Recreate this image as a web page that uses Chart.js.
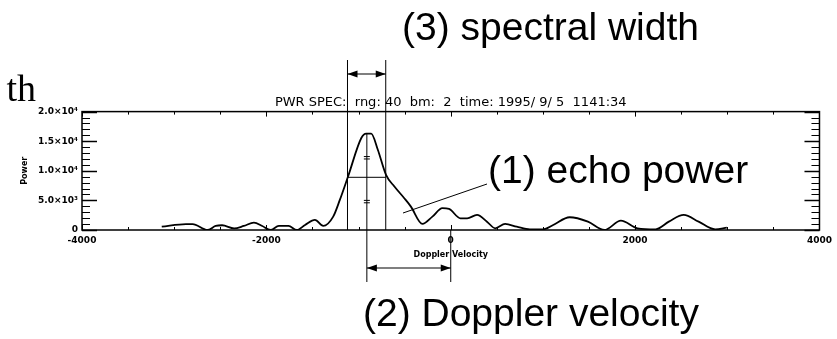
<!DOCTYPE html>
<html>
<head>
<meta charset="utf-8">
<script src="https://cdn.jsdelivr.net/npm/chart.js@4.4.0/dist/chart.umd.min.js"></script>
<style>
  html, body { margin: 0; padding: 0; background: #fff; }
  #spec { display: block; }
</style>
</head>
<body>
<canvas id="spec" width="837" height="339"></canvas>
<script>
// power spectrum (velocity in m/s, power)
var velocity = [-3135, -2872, -2800, -2640, -2550, -2480, -2350, -2245, -2135, -2045,
                -1955, -1865, -1760, -1670, -1580, -1473, -1383, -1275, -1203, -1114,
                -970, -917, -863, -791, -702, -611, -504, -432, -307, -199,
                -91, -19, 105, 178, 285, 393, 483, 590, 716, 859,
                1003, 1111, 1290, 1488, 1667, 1846, 2026, 2223, 2366, 2528,
                2689, 2869, 2995];
var power = [560, 1000, 1000, 0, 680, 800, 280, 680, 1240, 680,
             0, 680, 680, 0, 850, 1700, 680, 2260, 5080, 9030,
             15540, 16270, 16270, 13560, 9320, 7340, 5370, 3950, 1020, 2260,
             3680, 3560, 1980, 1980, 2540, 1410, 290, 1020, 560, 120,
             120, 850, 2150, 1410, 0, 1580, 290, 120, 1410, 2540,
             1410, 120, 390];

var xTicks = [-4000, -2000, 0, 2000, 4000];
var yTickValues = [0, 5000, 10000, 15000, 20000];
var yTickLabels = ['0', '5.0×10³', '1.0×10⁴', '1.5×10⁴', '2.0×10⁴'];

// spectral parameters marked on the figure
var dopplerVel = -910;
var widthLeft = -1120;
var widthRight = -705;
var halfPower = 8900;
var errMarks = [12200, 4800];

var titleText = 'PWR SPEC:  rng: 40  bm:  2  time: 1995/ 9/ 5  1141:34';

var points = velocity.map(function (v, i) { return { x: v, y: power[i] }; });

function seg(ctx, x1, y1, x2, y2) {
    ctx.beginPath();
    ctx.moveTo(x1, y1);
    ctx.lineTo(x2, y2);
    ctx.stroke();
}

function doubleArrow(ctx, x1, x2, y) {
    seg(ctx, x1, y, x2, y);
    ctx.beginPath();
    ctx.moveTo(x1, y); ctx.lineTo(x1 + 10, y - 3.5); ctx.lineTo(x1 + 10, y + 3.5);
    ctx.closePath();
    ctx.fill();
    ctx.beginPath();
    ctx.moveTo(x2, y); ctx.lineTo(x2 - 10, y - 3.5); ctx.lineTo(x2 - 10, y + 3.5);
    ctx.closePath();
    ctx.fill();
}

var annotate = {
    id: 'annotate',
    afterDraw: function (chart) {
        var ctx = chart.ctx, a = chart.chartArea;
        var xs = chart.scales.x, ys = chart.scales.y;
        var i, v, px, py, len;
        ctx.save();
        ctx.strokeStyle = '#000';
        ctx.fillStyle = '#000';

        // frame
        ctx.lineWidth = 1.5;
        ctx.strokeRect(a.left, a.top, a.right - a.left, a.bottom - a.top);

        // tick marks on all four sides
        ctx.lineWidth = 1;
        for (v = -4000; v <= 4000; v += 500) {
            px = Math.round(xs.getPixelForValue(v)) + 0.5;
            len = v % 2000 === 0 ? 5 : 3;
            seg(ctx, px, a.bottom, px, a.bottom - len);
            seg(ctx, px, a.top, px, a.top + len);
        }
        for (v = 0; v <= 20000; v += 1000) {
            py = Math.round(ys.getPixelForValue(v)) + 0.5;
            len = v % 5000 === 0 ? 15 : 8;
            ctx.lineWidth = v % 5000 === 0 ? 1.5 : 1;
            seg(ctx, a.left, py, a.left + len, py);
            seg(ctx, a.right, py, a.right - len, py);
        }

        var xl = xs.getPixelForValue(widthLeft);
        var xr = xs.getPixelForValue(widthRight);
        var xc = xs.getPixelForValue(dopplerVel);
        var x0 = xs.getPixelForValue(0);
        var yb = ys.getPixelForValue(0);
        var yh = ys.getPixelForValue(halfPower);
        var yp = ys.getPixelForValue(Math.max.apply(null, power));

        // (3) spectral width markers
        ctx.lineWidth = 1;
        seg(ctx, xl, 60, xl, yb);
        seg(ctx, xr, 60, xr, yb);
        seg(ctx, xl, yh, xr, yh);
        ctx.lineWidth = 1.2;
        doubleArrow(ctx, xl, xr, 74);

        // (2) doppler velocity markers
        ctx.lineWidth = 1;
        seg(ctx, xc, yp, xc, 282);
        seg(ctx, x0, yb, x0, 282);
        ctx.lineWidth = 1.2;
        doubleArrow(ctx, xc, x0, 268);

        // error marks on centre line
        ctx.lineWidth = 1;
        for (i = 0; i < errMarks.length; i++) {
            py = ys.getPixelForValue(errMarks[i]);
            seg(ctx, xc - 3, py - 1.2, xc + 3, py - 1.2);
            seg(ctx, xc - 3, py + 1.2, xc + 3, py + 1.2);
        }

        // (1) echo power pointer
        seg(ctx, 403, 213, 487, 184);

        // big labels
        ctx.font = '39px "Liberation Sans"';
        ctx.textBaseline = 'alphabetic';
        ctx.textAlign = 'left';
        ctx.fillText('(3) spectral width', 402, 40);
        ctx.fillText('(1) echo power', 488, 183);
        ctx.fillText('(2) Doppler velocity', 363, 326);
        ctx.font = '38px "Liberation Serif"';
        ctx.textAlign = 'right';
        ctx.fillText('th', 36, 101);
        ctx.restore();
    }
};

new Chart(document.getElementById('spec').getContext('2d'), {
    type: 'line',
    data: {
        datasets: [
            {
                data: points,
                borderColor: '#000',
                borderWidth: 1.8,
                pointRadius: 0,
                fill: false,
                cubicInterpolationMode: 'monotone'
            }
        ]
    },
    plugins: [annotate],
    options: {
        responsive: false,
        animation: false,
        layout: {
            padding: { left: 0, right: 12, top: 0, bottom: 79 }
        },
        plugins: {
            legend: { display: false },
            tooltip: { enabled: false },
            title: {
                display: true,
                text: titleText,
                fullSize: false,
                color: '#000',
                font: { family: 'DejaVu Sans', size: 13, weight: 'normal' },
                padding: { top: 95, bottom: 1 }
            }
        },
        scales: {
            x: {
                type: 'linear',
                min: -4000,
                max: 4000,
                afterFit: function (s) { s.height = 30; },
                afterBuildTicks: function (s) { s.ticks = xTicks.map(function (v) { return { value: v }; }); },
                grid: { display: false, drawTicks: false },
                border: { display: false },
                ticks: {
                    padding: 5,
                    color: '#000',
                    maxRotation: 0,
                    font: { family: 'DejaVu Sans', size: 9, weight: 'bold' },
                    callback: function (v) { return String(v); }
                },
                title: {
                    display: true,
                    text: 'Doppler Velocity',
                    color: '#000',
                    font: { family: 'DejaVu Sans', size: 8, weight: 'bold' },
                    padding: { top: 0, bottom: 0 }
                }
            },
            y: {
                min: 0,
                max: 20000,
                afterFit: function (s) { s.width = 82; },
                afterBuildTicks: function (s) { s.ticks = yTickValues.map(function (v) { return { value: v }; }); },
                grid: { display: false, drawTicks: false },
                border: { display: false },
                ticks: {
                    padding: 4,
                    color: '#000',
                    font: { family: 'DejaVu Sans', size: 9, weight: 'bold' },
                    callback: function (v) { return yTickLabels[yTickValues.indexOf(v)]; }
                },
                title: {
                    display: true,
                    text: 'Power',
                    color: '#000',
                    font: { family: 'DejaVu Sans', size: 8, weight: 'bold' },
                    padding: { top: 20, bottom: 0 }
                }
            }
        }
    }
});
</script>
</body>
</html>
